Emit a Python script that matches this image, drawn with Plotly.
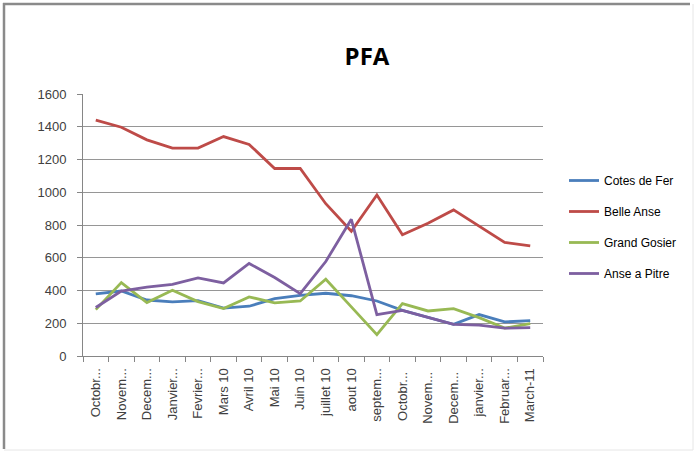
import plotly.graph_objects as go

categories = ["Octobr...", "Novem...", "Decem...", "Janvier...", "Fevrier...", "Mars 10",
              "Avril 10", "Mai 10", "Juin 10", "juillet 10", "aout 10", "septem...",
              "Octobr... ", "Novem... ", "Decem... ", "janvier...", "Februar...", "March-11"]

cotes_de_fer = [380, 397, 342, 330, 338, 292, 304, 350, 370, 383, 368, 336, 279, 234, 193, 253, 208, 216]
belle_anse   = [1440, 1397, 1320, 1270, 1270, 1340, 1292, 1145, 1145, 930, 762, 983, 740, 810, 892, 792, 694, 672]
grand_gosier = [283, 448, 326, 401, 332, 290, 361, 324, 336, 469, 300, 130, 320, 275, 289, 234, 170, 198]
anse_a_pitre = [296, 397, 420, 438, 477, 446, 565, 479, 381, 577, 835, 253, 279, 238, 193, 188, 170, 173]

series = [
    ("Cotes de Fer", cotes_de_fer, "#4a7ebb"),
    ("Belle Anse", belle_anse, "#be4b48"),
    ("Grand Gosier", grand_gosier, "#98b954"),
    ("Anse a Pitre", anse_a_pitre, "#7d5fa0"),
]

fig = go.Figure()
for i, (name, vals, col) in enumerate(series):
    fig.add_trace(go.Scatter(x=categories, y=vals, mode="lines", name=name,
                             line=dict(color=col, width=2.8), legendgroup=f"g{i}"))

W, H = 694, 451
L, R, T, B = 83, 151, 94, 95
pw, ph = W - L - R, H - T - B

def px_x(x):
    return (x - L) / pw

def px_y(y):
    return (H - B - y) / ph

font_family = "Liberation Sans, Arial, sans-serif"

fig.update_layout(
    width=W, height=H,
    margin=dict(l=L, r=R, t=T, b=B),
    paper_bgcolor="white", plot_bgcolor="white",
    font=dict(family=font_family, size=13, color="#404040"),
    title=dict(text="<b>PFA</b>", x=367 / W, xanchor="center", y=1 - 57 / H, yanchor="middle",
               font=dict(family="Open Sans, Liberation Sans, sans-serif", size=24, color="#000000")),
    showlegend=True,
    legend=dict(x=px_x(564), xanchor="left", y=px_y(166), yanchor="top",
                tracegroupgap=12, font=dict(size=12, color="#000000"),
                bgcolor="rgba(0,0,0,0)"),
    xaxis=dict(type="category", tickangle=-90, showgrid=False, showline=True,
               linecolor="#868686", linewidth=1, ticks="outside", ticklen=5,
               tickcolor="#868686", tickson="boundaries", tickfont=dict(size=13, color="#404040"),
               ticklabelstandoff=6, range=[-0.5, len(categories) - 0.5]),
    yaxis=dict(range=[0, 1600], dtick=200, showgrid=True, gridcolor="#969696", gridwidth=1,
               showline=True, linecolor="#868686", ticks="outside", ticklen=5,
               tickcolor="#868686", zeroline=False, tickfont=dict(size=13, color="#404040"),
               ticklabelstandoff=8),
)

# outer chart frame
fig.add_shape(type="line", xref="paper", yref="paper", x0=px_x(3), x1=px_x(690), y0=px_y(4), y1=px_y(4),
              line=dict(color="#8a8a8a", width=2.5))
fig.add_shape(type="line", xref="paper", yref="paper", x0=px_x(4), x1=px_x(4), y0=px_y(3), y1=px_y(449),
              line=dict(color="#8a8a8a", width=2.5))
fig.add_shape(type="line", xref="paper", yref="paper", x0=px_x(4), x1=px_x(693), y0=px_y(450), y1=px_y(450),
              line=dict(color="#e6e6e6", width=1))
fig.add_shape(type="line", xref="paper", yref="paper", x0=px_x(693), x1=px_x(693), y0=px_y(4), y1=px_y(450),
              line=dict(color="#e6e6e6", width=1))

fig.write_html("out.html", config={"displayModeBar": False},
               post_script="document.body.style.margin='0';document.body.style.overflow='hidden';")
